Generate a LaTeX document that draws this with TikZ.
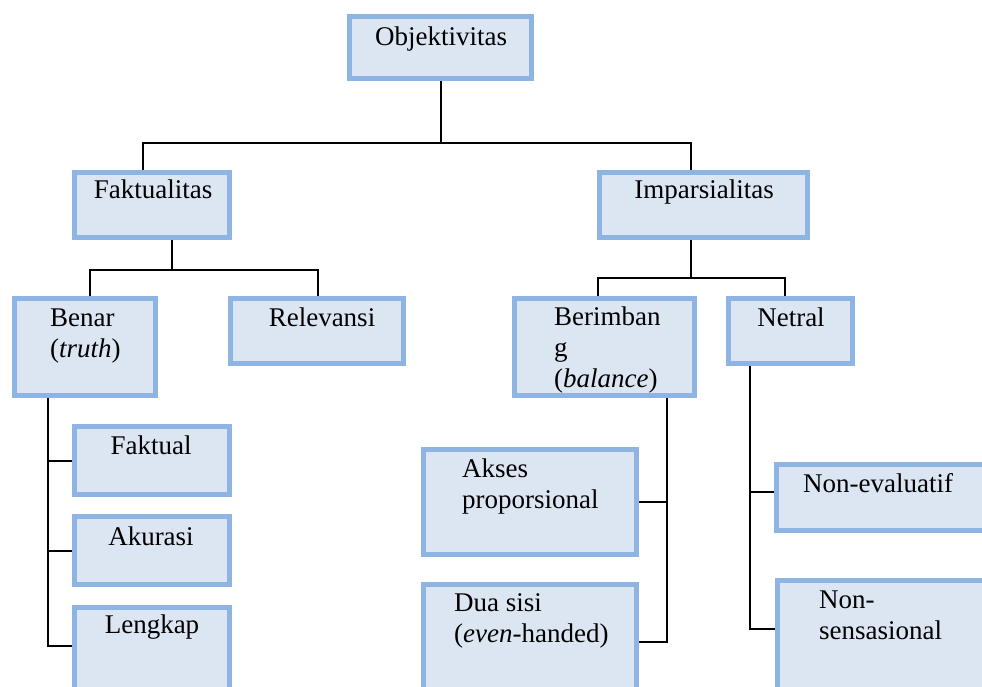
\documentclass[tikz,border=0pt]{standalone}
\usepackage{fontspec}
\setmainfont{Liberation Serif}
\usetikzlibrary{positioning}

\definecolor{isiBiru}{RGB}{220,230,242}
\definecolor{tepiBiru}{RGB}{142,180,227}

\tikzset{
  kotak/.style={rectangle, draw=tepiBiru, fill=isiBiru, line width=5pt, anchor=north west, inner sep=0pt},
  teks/.style={font=\fontsize{27}{31}\selectfont, inner sep=0pt, align=left},
  garis/.style={draw=black, line width=2pt}
}

\begin{document}
\begin{tikzpicture}[x=1pt, y=-1pt]
   \useasboundingbox (0,0) rectangle (982,687);

   % kotak
   \node[kotak, minimum width=182pt, minimum height=62pt] (obj) at (347,14) {};
   \node[kotak, minimum width=155pt, minimum height=65pt] (fakt) at (72,170) {};
   \node[kotak, minimum width=208pt, minimum height=65pt] (imp) at (597,170) {};
   \node[kotak, minimum width=141pt, minimum height=97pt] (benar) at (12,296) {};
   \node[kotak, minimum width=173pt, minimum height=65pt] (rel) at (228,296) {};
   \node[kotak, minimum width=180pt, minimum height=97pt] (berim) at (512,296) {};
   \node[kotak, minimum width=124pt, minimum height=65pt] (netral) at (726,296) {};
   \node[kotak, minimum width=155pt, minimum height=68pt] (faktual) at (72,424) {};
   \node[kotak, minimum width=155pt, minimum height=68pt] (akurasi) at (72,514) {};
   \node[kotak, minimum width=155pt, minimum height=95pt] (lengkap) at (72,605) {};
   \node[kotak, minimum width=213pt, minimum height=105pt] (akses) at (421,447) {};
   \node[kotak, minimum width=213pt, minimum height=115pt] (dua) at (421,582) {};
   \node[kotak, minimum width=210pt, minimum height=66pt] (noneval) at (774,462) {};
   \node[kotak, minimum width=210pt, minimum height=115pt] (nonsens) at (775,578) {};

   % teks (base = garis dasar baris terakhir)
   \node[teks, anchor=base] (obj-t) at (441,46) {Objektivitas};
   \node[teks, anchor=base] (fakt-t) at (153,199) {Faktualitas};
   \node[teks, anchor=base] (imp-t) at (704,199) {Imparsialitas};
   \node[teks, anchor=base west] (benar-t) at (50,357) {Benar\\(\textit{truth})};
   \node[teks, anchor=base] (rel-t) at (322,326) {Relevansi};
   \node[teks, anchor=base west] (berim-t) at (554,387) {Berimban\\g\\(\textit{balance})};
   \node[teks, anchor=base] (netral-t) at (791,326) {Netral};
   \node[teks, anchor=base] (faktual-t) at (151,454) {Faktual};
   \node[teks, anchor=base] (akurasi-t) at (151,545) {Akurasi};
   \node[teks, anchor=base] (lengkap-t) at (152,633) {Lengkap};
   \node[teks, anchor=base west] (akses-t) at (462,508) {Akses\\proporsional};
   \node[teks, anchor=base west] (dua-t) at (454,642) {Dua sisi\\(\textit{even}-handed)};
   \node[teks, anchor=base west] (noneval-t) at (803,492) {Non-evaluatif};
   \node[teks, anchor=base west] (nonsens-t) at (819,639) {Non-\\sensasional};

   % garis
   \draw[garis] (obj.south) -- ++(0,62) -| ([xshift=-9pt]fakt.north);
   \draw[garis] (obj.south) -- ++(0,62) -| ([xshift=-12.5pt]imp.north);
   \draw[garis] ([xshift=20pt]fakt.south) -- ++(0,30) -| ([xshift=5pt]benar.north);
   \draw[garis] ([xshift=20pt]fakt.south) -- ++(0,30) -| ([xshift=1pt]rel.north);
   \draw[garis] ([xshift=-12.5pt]imp.south) -- ++(0,38) -| ([xshift=-6.5pt]berim.north);
   \draw[garis] ([xshift=-12.5pt]imp.south) -- ++(0,38) -| ([xshift=-5.5pt]netral.north);
   \draw[garis] ([xshift=-37pt]benar.south) |- (faktual.west);
   \draw[garis] ([xshift=-37pt]benar.south) |- (akurasi.west);
   \draw[garis] ([xshift=-37pt]benar.south) |- ([yshift=9pt]lengkap.west);
   \draw[garis] ([xshift=62.5pt]berim.south) |- (akses.east);
   \draw[garis] ([xshift=62.5pt]berim.south) |- (dua.east);
   \draw[garis] ([xshift=-40.5pt]netral.south) |- ([yshift=5.5pt]noneval.west);
   \draw[garis] ([xshift=-40.5pt]netral.south) |- ([yshift=9pt]nonsens.west);
\end{tikzpicture}
\end{document}
